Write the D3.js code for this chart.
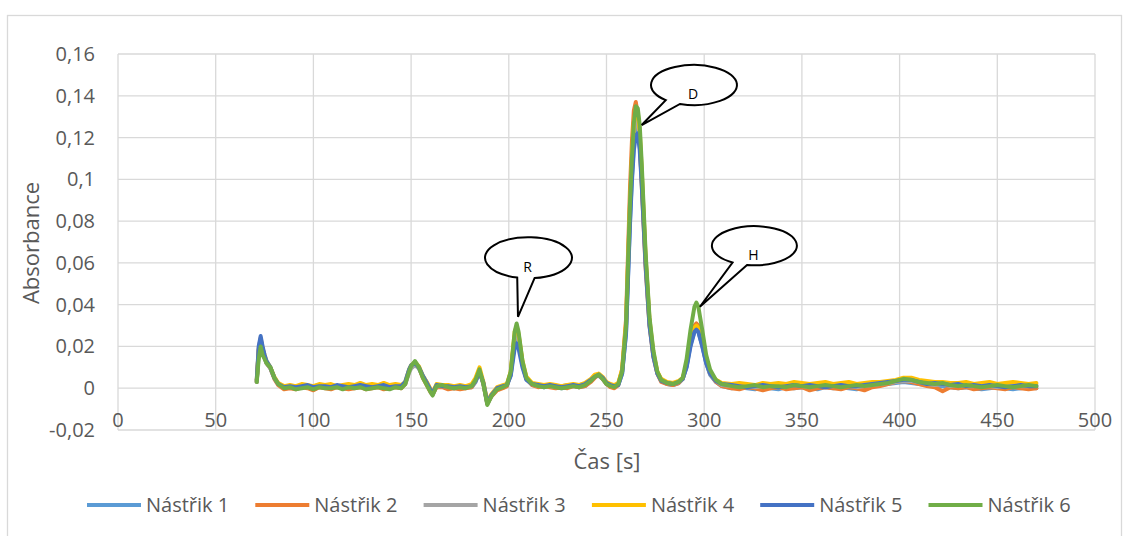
<!DOCTYPE html>
<html>
<head>
<meta charset="utf-8">
<script src="https://cdn.jsdelivr.net/npm/d3@7"></script>
<style>
  body { margin: 0; background: #fff; }
  text { font-family: "Open Sans", sans-serif; }
</style>
</head>
<body>
<svg id="graf" width="1127" height="536"></svg>
<script>
// cas [s]
const czas = [
  71, 72, 73, 74, 75, 76, 78, 80, 82, 85,
  88, 91, 94, 97, 100, 103, 106, 109, 112, 115, 118, 121, 124, 127, 130, 133, 136, 139, 142, 145,
  147, 149, 150, 152, 154, 156, 158, 160, 161, 163, 166,
  169, 172, 175, 178, 181,
  183, 185, 187, 189, 191, 194, 197, 199, 201, 203, 204, 205, 207, 209,
  212, 215, 218, 221, 224, 227, 230, 233, 236, 239,
  242, 244, 246, 248, 250, 252, 254, 256, 258, 260, 262, 263, 264, 265, 266, 267, 268, 270, 272, 274, 276, 278,
  281, 284, 287, 289, 291, 293, 295, 296, 297, 299, 301, 303, 306, 309,
  314, 318, 322, 326, 330, 334, 338, 342, 346, 350, 354, 358, 362, 366, 370, 374, 378, 382, 386, 390,
  394, 398, 402, 406, 410, 414, 418, 422, 426, 430, 434, 438, 442, 446, 450, 454, 458, 462, 466, 470
];

// absorbance v tisicinach (x 0,001)
const nastrik1 = [
  3, 18, 23, 19, 15, 12, 9.5, 5, 2, 0,
  0.5, 0, 1, 0.5, 0, 1, 0.5, 0, 1, 0.5, 0, 0.5, 1, 0, 0.5, 1, 0.5, 0, 1, 0.5,
  2.5, 8.5, 10.5, 12, 9.5, 5.5, 2, -1.5, -3, 1, 1,
  0.5, 0, 0.5, 0.5, 0.5,
  3, 8, 2, -7.5, -4, -0.5, 0.5, 1, 6.5, 22, 24.5, 22, 11, 4.5,
  1.5, 1, 0.5, 1, 0.5, 0, 0.5, 1, 0.5, 1,
  3.5, 5.5, 6, 4.5, 2, 1, 0.5, 1.5, 7, 27, 80, 101, 117, 124, 125, 117, 100, 61, 31, 16, 7.5, 3.5,
  2, 1.5, 2.5, 4.5, 10.5, 21, 27, 28, 27, 20.5, 12, 6.5, 3, 1,
  0, 0.5, 0, -0.5, 0.5, 0, -0.5, 0.5, 0, 0.5, 0, -0.5, 0.5, 0, 0.5, 0, -0.5, 0.5, 1, 1.5,
  2, 2.5, 3, 2.5, 2, 1.5, 1, 1, 0.5, 0, 0.5, 0, -0.5, 0, 0.5, 0, -0.5, 0, 0.5, 0
];
const nastrik2 = [
  3, 19, 24, 19, 15, 12, 9.5, 4.5, 1.5, -0.5,
  0, -0.5, 0.5, 0, -1, 0.5, 0, -0.5, 0.5, 0, -0.5, 0, 0.5, -0.5, 0, 0.5, -0.5, 0, 0.5, 0,
  2, 8.5, 10, 12.5, 10, 5, 1.5, -2, -3, 0.5, 0.5,
  -0.5, 0, -0.5, 0, 0.5,
  3.5, 8.5, 2, -7.5, -4, -1, 0, 1, 7.5, 25, 28, 25, 12, 4.5,
  1.5, 0.5, 1, 0.5, 0, 0.5, 0, 1, 0.5, 1,
  3, 5, 6.5, 4.5, 2, 0.5, 0, 1.5, 9, 33, 95, 118, 133, 137, 131, 118, 98, 58, 30, 15, 7, 3,
  2, 1.5, 2.5, 4.5, 11, 23, 30, 31, 30, 22, 13, 7, 3, 1,
  0, -0.5, 0.5, 0, -1, 0, 0.5, -0.5, 0, 0.5, -1, 0, 0.5, 0, -0.5, 0.5, 0, -1, 0.5, 1,
  2, 3, 3.5, 3, 2, 1, 0.5, -1.5, 0.5, 0, 0.5, -0.5, 0, 0.5, 0, -0.5, 0.5, 0, -0.5, 0
];
const nastrik3 = [
  3, 16, 21, 18, 15, 12, 9.5, 5, 2, 0.5,
  1, 0.5, 1, 0.5, 1, 1.5, 0.5, 1, 0.5, 1, 1.5, 0.5, 1, 1, 0.5, 1, 1.5, 0.5, 1, 1,
  2, 7.5, 9.5, 11, 9.5, 6, 3, -1, -2, 1, 1,
  1, 0.5, 1, 0.5, 1,
  3.5, 8, 2.5, -7, -3.5, 0, 1, 1.5, 7, 24, 27, 24, 11.5, 4.5,
  2, 1, 1.5, 1, 0.5, 1, 1.5, 1, 1.5, 2,
  4, 6, 6.5, 5, 2.5, 1.5, 1, 2, 8, 29, 84, 106, 122, 130, 128, 120, 103, 62, 32, 16, 7.5, 4,
  2.5, 2, 3, 4.5, 11, 22, 28.5, 29.5, 28.5, 21, 12.5, 7, 3.5, 1.5,
  1, 1.5, 1, 0.5, 1, 1.5, 1, 1, 1.5, 1, 0.5, 1.5, 1, 1, 1.5, 1, 0.5, 1, 1.5, 2,
  2.5, 3, 3.5, 3.5, 3, 2, 1.5, 2, 1, 1.5, 1, 1, 1.5, 1, 0.5, 1, 1.5, 1, 1, 1.5
];
const nastrik4 = [
  4, 18, 23, 19, 16, 13, 10, 5.5, 2.5, 1,
  1.5, 1, 2, 1.5, 1, 2, 1.5, 2, 1, 1.5, 2, 1.5, 2.5, 1.5, 2, 1.5, 2.5, 1.5, 2, 1.5,
  3, 9, 11, 12.5, 10.5, 6, 3, -0.5, -2, 2, 1.5,
  1.5, 1, 1.5, 1, 2,
  5, 10, 3, -6.5, -3, 0.5, 1.5, 2, 8, 27, 29.5, 26, 13, 5.5,
  2.5, 2, 1.5, 2, 1.5, 1, 1.5, 2, 1.5, 2.5,
  4.5, 6.5, 7, 5.5, 3, 2, 1.5, 2.5, 9, 31, 87, 110, 127, 134, 132, 123, 105, 63, 33, 17, 8, 4.5,
  3, 2.5, 3.5, 5, 11.5, 22.5, 29, 30, 29, 21.5, 13, 7.5, 4, 2.5,
  2, 2.5, 2, 1.5, 2.5, 2, 2.5, 2, 3, 2.5, 2, 2.5, 3, 2, 2.5, 3, 2, 2.5, 3, 3,
  3.5, 4, 5, 5, 4, 3.5, 3, 3, 2.5, 2.5, 3, 2, 2.5, 3, 2, 2.5, 3, 2.5, 2, 2.5
];
const nastrik5 = [
  4, 20, 25, 20, 16, 13, 10, 5, 2, 0.5,
  1, 0.5, 1, 1.5, 0.5, 1, 1, 0.5, 1.5, 1, 0.5, 1, 1.5, 1, 0.5, 1, 1.5, 0.5, 1, 1,
  3, 9, 11, 12, 10, 6, 2.5, -1, -2.5, 1.5, 1,
  1, 0.5, 1, 0.5, 1,
  3.5, 8, 2.5, -7, -3.5, 0, 1, 1.5, 6, 19, 21.5, 19, 10, 4,
  2, 1.5, 1, 1.5, 1, 0.5, 1, 1.5, 1, 2,
  4, 5.5, 6.5, 5, 2.5, 1.5, 1, 1.5, 7, 26, 78, 99, 114, 121, 122, 114, 98, 59, 30, 15, 7, 3.5,
  2.5, 2, 3, 4.5, 10, 20, 27, 28, 27, 20, 12, 7, 3.5, 2,
  1.5, 1, 0.5, 1, 1.5, 1, 0.5, 1, 1.5, 1, 1.5, 1, 0.5, 1, 1.5, 1, 1, 1.5, 2, 2.5,
  3, 3.5, 4, 4, 3, 2, 2.5, 2, 1.5, 2, 1, 1.5, 1, 1.5, 1, 0.5, 1, 1.5, 1, 1
];
const nastrik6 = [
  3, 14, 20, 16, 14, 12, 10, 5, 2, 0,
  0.5, -0.5, 0, 0.5, -0.5, 0.5, 0, 0, 0.5, -0.5, 0.5, 0, 0.5, -0.5, 0, 0.5, 0, -0.5, 0.5, 0,
  2, 8, 10.5, 13, 10, 5, 1.5, -2, -3.5, 1, 1.5,
  0.5, 0, 0.5, 0, 1,
  4, 9, 2, -8, -4, -0.5, 0.5, 1.5, 8, 27, 31, 27, 13, 5,
  2, 1, 0.5, 1, 0.5, 0, 0.5, 1, 0.5, 1.5,
  3.5, 5.5, 6.5, 4.5, 2, 1, 0.5, 2, 8, 30, 88, 110, 127, 135, 134, 126, 108, 65, 34, 18, 8, 4,
  2.5, 2, 3, 5, 14, 28, 39, 41, 39, 28, 16, 9, 4, 2,
  1, 0.5, 1, 1.5, 0.5, 1, 1, 0.5, 1.5, 1, 0.5, 1, 1.5, 1, 0.5, 1, 1.5, 1, 1.5, 2,
  2.5, 3.5, 4.5, 4, 3, 2.5, 2, 2.5, 1.5, 1, 1.5, 1, 0.5, 1, 1.5, 1, 0.5, 1, 1.5, 1
];

const nazvy = ["Nástřik 1", "Nástřik 2", "Nástřik 3", "Nástřik 4", "Nástřik 5", "Nástřik 6"];
const barvy = ["#5B9BD5", "#ED7D31", "#A5A5A5", "#FFC000", "#4472C4", "#70AD47"];
const hodnoty = [nastrik1, nastrik2, nastrik3, nastrik4, nastrik5, nastrik6];

const yTicks = [-0.02, 0, 0.02, 0.04, 0.06, 0.08, 0.1, 0.12, 0.14, 0.16];
const xTicks = [0, 50, 100, 150, 200, 250, 300, 350, 400, 450, 500];

// popisky piku: vrchol sipky v datech, bublina posunuta v px
const piky = [
  { text: "R", t: 204.7, v: 0.0342, dx: 10.5, dy: -59, rx: 43.5, ry: 20.5, a1: 105, a2: 82 },
  { text: "D", t: 268.0, v: 0.126,  dx: 52.3, dy: -40, rx: 43,   ry: 20,   a1: 131, a2: 109 },
  { text: "H", t: 297.8, v: 0.039,  dx: 54.5, dy: -61, rx: 42.5, ry: 19.5, a1: 121, a2: 100 }
];

const svg = d3.select("#graf");
const plot = { left: 118, right: 1095, top: 54, bottom: 430 };

// ramecek grafu
svg.append("rect")
  .attr("x", 7.5).attr("y", 15.5)
  .attr("width", 1114).attr("height", 530)
  .attr("fill", "#fff").attr("stroke", "#d9d9d9").attr("stroke-width", 1.3);

const x = d3.scaleLinear().domain([0, 500]).range([plot.left, plot.right]);
const y = d3.scaleLinear().domain([-0.02, 0.16]).range([plot.bottom, plot.top]);

// mrizka
svg.append("g").selectAll("line")
  .data(yTicks).enter().append("line")
  .attr("x1", plot.left).attr("x2", plot.right)
  .attr("y1", d => y(d)).attr("y2", d => y(d))
  .attr("stroke", "#d9d9d9").attr("stroke-width", 1.3);

svg.append("g").selectAll("line")
  .data(xTicks).enter().append("line")
  .attr("x1", d => x(d)).attr("x2", d => x(d))
  .attr("y1", plot.top).attr("y2", plot.bottom)
  .attr("stroke", "#d9d9d9").attr("stroke-width", 1.3);

const fmt = v => String(+v.toFixed(2)).replace(".", ",");

svg.append("g").selectAll("text")
  .data(yTicks).enter().append("text")
  .attr("x", 95).attr("y", d => y(d))
  .attr("dy", "0.35em")
  .attr("text-anchor", "end")
  .attr("font-size", 20).attr("fill", "#595959")
  .text(fmt);

svg.append("g").selectAll("text")
  .data(xTicks).enter().append("text")
  .attr("x", d => x(d)).attr("y", 420)
  .attr("dy", "0.35em")
  .attr("text-anchor", "middle")
  .attr("font-size", 20).attr("fill", "#595959")
  .text(d => d);

// nazvy os
svg.append("text")
  .attr("x", 607).attr("y", 461).attr("dy", "0.35em")
  .attr("text-anchor", "middle")
  .attr("font-size", 22).attr("fill", "#595959")
  .text("Čas [s]");

svg.append("text")
  .attr("transform", "translate(31,243) rotate(-90)")
  .attr("dy", "0.35em")
  .attr("text-anchor", "middle")
  .attr("font-size", 22).attr("fill", "#595959")
  .text("Absorbance");

// krivky
const line = d3.line()
  .x((d, i) => x(czas[i]))
  .y(d => y(d / 1000));

svg.append("g").selectAll("path")
  .data(hodnoty).enter().append("path")
  .attr("d", line)
  .attr("fill", "none")
  .attr("stroke", (d, i) => barvy[i])
  .attr("stroke-width", 4)
  .attr("stroke-linejoin", "round")
  .attr("stroke-linecap", "round");

// bubliny s popisky
const rad = a => a * Math.PI / 180;
const bubliny = svg.append("g").selectAll("g")
  .data(piky).enter().append("g");

bubliny.append("path")
  .attr("d", d => {
    const tx = x(d.t), ty = y(d.v);
    const cx = tx + d.dx, cy = ty + d.dy;
    const b1x = cx + d.rx * Math.cos(rad(d.a1)), b1y = cy + d.ry * Math.sin(rad(d.a1));
    const b2x = cx + d.rx * Math.cos(rad(d.a2)), b2y = cy + d.ry * Math.sin(rad(d.a2));
    return `M${b1x},${b1y} A${d.rx},${d.ry} 0 1 1 ${b2x},${b2y} L${tx},${ty} Z`;
  })
  .attr("fill", "#fff")
  .attr("stroke", "#000")
  .attr("stroke-width", 2)
  .attr("stroke-linejoin", "miter");

bubliny.append("text")
  .attr("x", d => x(d.t) + d.dx - 1)
  .attr("y", d => y(d.v) + d.dy + 9)
  .attr("dy", "0.35em")
  .attr("text-anchor", "middle")
  .attr("font-size", 14).attr("fill", "#000")
  .text(d => d.text);

// legenda
const legenda = svg.append("g").selectAll("g")
  .data(nazvy).enter().append("g")
  .attr("transform", (d, i) => `translate(${87 + i * 168.3},505)`);

legenda.append("line")
  .attr("x1", 0).attr("x2", 54)
  .attr("stroke", (d, i) => barvy[i])
  .attr("stroke-width", 4);

legenda.append("text")
  .attr("x", 59).attr("dy", "0.35em")
  .attr("font-size", 20).attr("fill", "#595959")
  .text(d => d);
</script>
</body>
</html>
